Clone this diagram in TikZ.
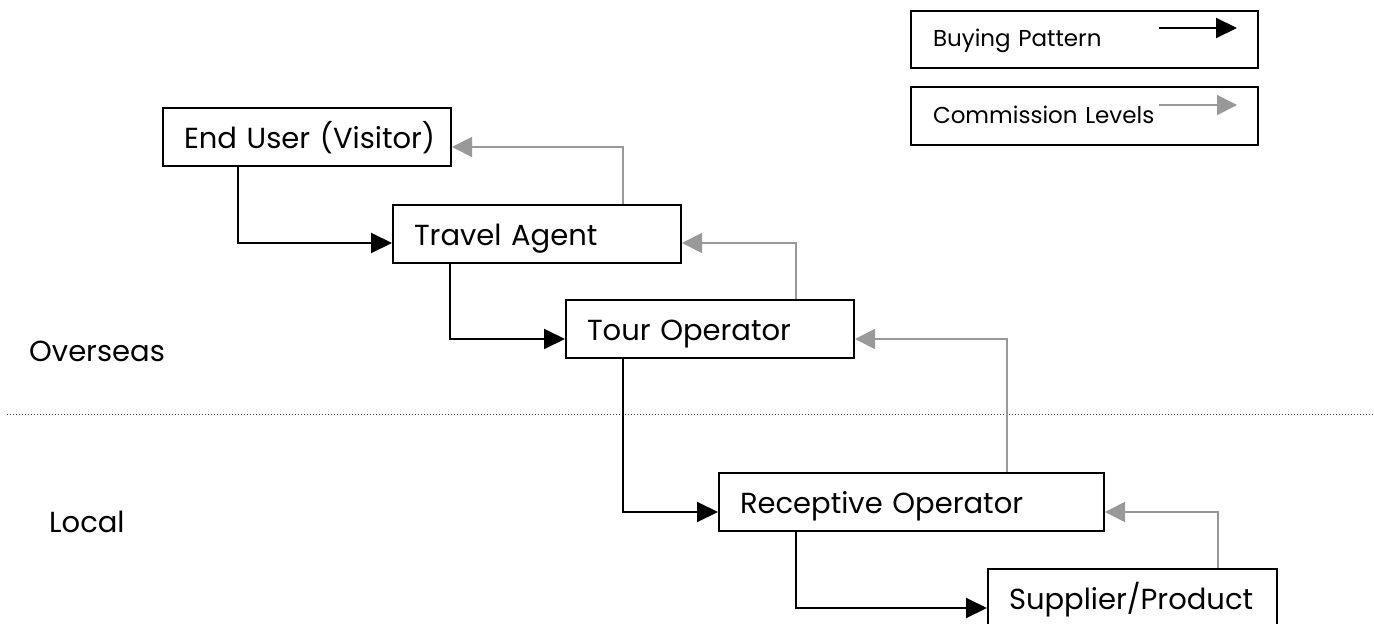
\documentclass[tikz,border=0pt]{standalone}
\usepackage{fontspec}
\setmainfont{Poppins}
\usetikzlibrary{arrows.meta,calc}
\definecolor{commgrey}{HTML}{999999}
\tikzset{
  box/.style={draw=black, line width=2pt, anchor=north west, inner xsep=21pt, inner ysep=0pt,
    minimum height=58pt, align=left, text height=25pt, text depth=2pt,
    font=\fontsize{29}{34}\selectfont},
  legbox/.style={draw=black, line width=2pt, anchor=north west, inner xsep=22pt, inner ysep=0pt,
    minimum height=57pt, text width=303pt, align=left, text height=16pt, text depth=2pt,
    font=\fontsize{23}{28}\selectfont},
  buy/.style={draw=black, line width=2pt, -{Triangle[length=21pt,width=20pt]}},
  comm/.style={draw=commgrey, line width=1.8pt, -{Triangle[length=20pt,width=20pt]}},
  region/.style={anchor=base west, inner sep=0pt, font=\fontsize{29}{34}\selectfont},
}
\begin{document}
\begin{tikzpicture}[x=1pt,y=-1pt]
\useasboundingbox (0,0) rectangle (1374,624);
% separator
\draw[black!75, line width=1.2pt, dash pattern=on 1pt off 2pt] (7,414.5) -- (1374,414.5);
% region labels
\node[region] (overseas) at (29,361) {Overseas};
\node[region] (local) at (49,532) {Local};
% boxes
\node[box, text width=246pt] (eu) at (162,107) {\mbox{End User (Visitor)}};
\node[box, text width=246pt] (ta) at (392,204) {\mbox{Travel Agent}};
\node[box, text width=246pt] (to) at (565,299) {\mbox{Tour Operator}};
\node[box, text width=343pt] (ro) at (718,472) {\mbox{Receptive Operator}};
\node[box, text width=247pt] (sp) at (987,568) {\mbox{Supplier/Product}};
% legend
\node[legbox] (lb1) at (910,10) {\mbox{Buying Pattern}};
\node[legbox, minimum height=58pt] (lb2) at (910,86) {\mbox{Commission Levels}};
\coordinate (b1s) at ($(lb1.north west)+(249,18)$);
\coordinate (b1e) at ($(lb1.north west)+(327,18)$);
\coordinate (b2s) at ($(lb2.north west)+(249,19)$);
\coordinate (b2e) at ($(lb2.north west)+(327,19)$);
\draw[buy] (b1s) -- (b1e);
\draw[comm] (b2s) -- (b2e);
% buying pattern
\draw[buy] ($(eu.south west)+(76,0)$) |- ($(ta.west)+(0,9)$);
\draw[buy] ($(ta.south west)+(58,0)$) |- ($(to.west)+(0,10)$);
\draw[buy] ($(to.south west)+(58,0)$) |- ($(ro.west)+(0,10)$);
\draw[buy] ($(ro.south west)+(78,0)$) |- ($(sp.west)+(0,10)$);
% commission levels
\draw[comm] ($(ta.north west)+(231,0)$) |- ($(eu.east)+(0,10)$);
\draw[comm] ($(to.north west)+(231,0)$) |- ($(ta.east)+(0,9)$);
\draw[comm] ($(ro.north west)+(289,0)$) |- ($(to.east)+(0,10)$);
\draw[comm] ($(sp.north west)+(231,0)$) |- ($(ro.east)+(0,10)$);
\end{tikzpicture}
\end{document}
